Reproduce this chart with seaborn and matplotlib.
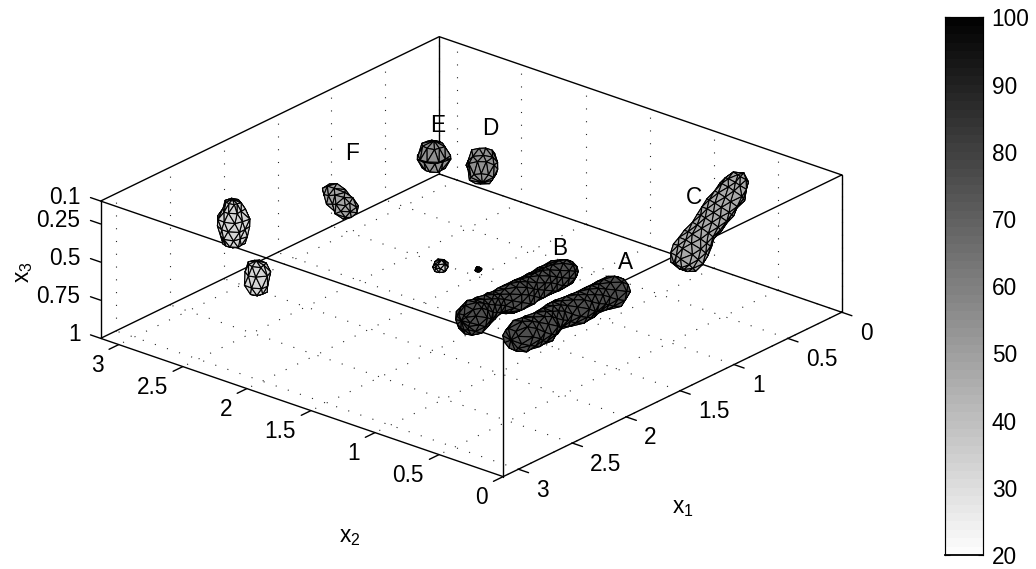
import matplotlib
matplotlib.use("Agg")
import matplotlib.pyplot as plt
import numpy as np
import seaborn as sns
from mpl_toolkits.mplot3d import proj3d

W, H = 1036, 569
FONT_SIZE = 16.3
PI = np.pi

X1_TICKS = [0, 0.5, 1, 1.5, 2, 2.5, 3]
X2_TICKS = [0, 0.5, 1, 1.5, 2, 2.5, 3]
X3_TICKS = [0.1, 0.25, 0.5, 0.75, 1]
X1_LABELS = ["0", "0.5", "1", "1.5", "2", "2.5", "3"]
X2_LABELS = ["0", "0.5", "1", "1.5", "2", "2.5", "3"]
X3_LABELS = ["0.1", "0.25", "0.5", "0.75", "1"]
CBAR_TICKS = [20, 30, 40, 50, 60, 70, 80, 90, 100]

# blob centre lines (x1, x2, x3), tube radius and level on the colour scale
A_X1 = [2.354, 2.153, 1.962, 1.799, 1.629, 1.503]
A_X2 = [0.532, 0.519, 0.575, 0.530, 0.543, 0.519]
A_X3 = [0.5, 0.5, 0.5, 0.5, 0.5, 0.5]
A_R = [0.100, 0.100, 0.086, 0.097, 0.086, 0.100]

B_X1 = [2.326, 2.070, 1.943, 1.725, 1.544, 1.476]
B_X2 = [0.922, 0.966, 0.929, 0.930, 0.926, 0.919]
B_X3 = [0.5, 0.5, 0.5, 0.5, 0.5, 0.5]
B_R = [0.106, 0.070, 0.096, 0.086, 0.092, 0.080]

C_X1 = [0.353, 0.238, 0.131, 0.016, 0.008]
C_X2 = [0.90, 0.88, 0.86, 0.84, 0.82]
C_X3 = [0.757, 0.633, 0.533, 0.436, 0.389]
C_R = [0.108, 0.084, 0.092, 0.092, 0.076]

D_X1 = [0.569, 0.590]
D_X2 = [2.326, 2.310]
D_X3 = [0.5, 0.52]
D_R = [0.098, 0.094]

E_X1 = [0.664, 0.664]
E_X2 = [2.628, 2.628]
E_X3 = [0.5, 0.51]
E_R = [0.096, 0.096]

F_X1 = [1.478, 1.579]
F_X2 = [2.724, 2.540]
F_X3 = [0.5, 0.5]
F_R = [0.066, 0.070]

G_X1 = [2.162, 2.162, 2.162]
G_X2 = [2.930, 2.930, 2.930]
G_X3 = [0.423, 0.5, 0.587]
G_R = [0.066, 0.102, 0.084]

H_X1 = [2.648, 2.648]
H_X2 = [2.334, 2.334]
H_X3 = [0.5, 0.576]
H_R = [0.078, 0.072]

I_X1 = [1.867, 1.880]
I_X2 = [1.552, 1.552]
I_X3 = [0.5, 0.5]
I_R = [0.040, 0.040]

J_X1 = [1.766, 1.775]
J_X2 = [1.348, 1.348]
J_X3 = [0.5, 0.5]
J_R = [0.014, 0.011]

BLOBS = [
    (A_X1, A_X2, A_X3, A_R, 76),
    (B_X1, B_X2, B_X3, B_R, 76),
    (C_X1, C_X2, C_X3, C_R, 47),
    (D_X1, D_X2, D_X3, D_R, 54),
    (E_X1, E_X2, E_X3, E_R, 54),
    (F_X1, F_X2, F_X3, F_R, 48),
    (G_X1, G_X2, G_X3, G_R, 33),
    (H_X1, H_X2, H_X3, H_R, 33),
    (I_X1, I_X2, I_X3, I_R, 33),
    (J_X1, J_X2, J_X3, J_R, 70),
]

LETTERS = ["A", "B", "C", "D", "E", "F"]
LETTER_X1 = [1.125, 1.218, 0.132, 0.144, 0.314, 0.955]
LETTER_X2 = [0.745, 1.174, 1.042, 2.623, 2.893, 3.018]
LETTER_X3 = [0.5, 0.5, 0.5, 0.5, 0.5, 0.5]


def tube_mesh(x1, x2, x3, radii, step=0.062):
    pts = np.column_stack([x1, x2, x3])
    s = np.r_[0, np.cumsum(np.linalg.norm(np.diff(pts, axis=0), axis=1))]
    axis = (pts[-1] - pts[0]) / s[-1]
    n1 = np.cross(axis, [0.3, -0.5, 0.8])
    n1 /= np.linalg.norm(n1)
    n2 = np.cross(axis, n1)

    r0, r1 = radii[0], radii[-1]
    n_ring = max(6, int(round(2 * PI * max(radii) / step)))
    k0 = max(2, int(r0 * PI / 2 / (step * 0.85)))
    k1 = max(2, int(r1 * PI / 2 / (step * 0.85)))
    k_body = max(1, int(s[-1] / (step * 0.85)))

    rings = []
    for th in np.linspace(0, PI / 2, k0 + 1)[1:]:
        rings.append((pts[0] - axis * r0 * np.cos(th), r0 * np.sin(th)))
    for u in np.linspace(0, s[-1], k_body + 1)[1:-1]:
        c = np.array([np.interp(u, s, pts[:, i]) for i in range(3)])
        rings.append((c, np.interp(u, s, radii)))
    for th in np.linspace(0, PI / 2, k1 + 1)[1:-1]:
        rings.append((pts[-1] + axis * r1 * np.cos(th), r1 * np.sin(th)))
    rings.append((pts[-1], r1))
    rings = sorted(rings, key=lambda ring: np.dot(ring[0] - pts[0], axis))

    verts, tris = [], []
    for i, (c, r) in enumerate(rings):
        phi = 2 * PI * (np.arange(n_ring) + 0.5 * (i % 2)) / n_ring
        for p in phi:
            verts.append(c + r * (np.cos(p) * n1 + np.sin(p) * n2))
    for i in range(len(rings) - 1):
        for j in range(n_ring):
            a = i * n_ring + j
            b = i * n_ring + (j + 1) % n_ring
            c = (i + 1) * n_ring + j
            d = (i + 1) * n_ring + (j + 1) % n_ring
            if i % 2 == 0:
                tris += [[a, b, c], [b, c, d]]
            else:
                tris += [[a, c, d], [a, b, d]]

    start = len(verts)
    verts.append(pts[0] - axis * r0)
    verts.append(pts[-1] + axis * r1)
    last = (len(rings) - 1) * n_ring
    for j in range(n_ring):
        tris.append([start, j, (j + 1) % n_ring])
        tris.append([start + 1, last + j, last + (j + 1) % n_ring])

    # isosurface meshes are not regular, so nudge the lattice a little
    verts = np.array(verts)
    idx = np.arange(len(verts))
    nudge = np.column_stack([np.sin(idx * 12.9898), np.sin(idx * 78.233), np.sin(idx * 37.719)])
    return verts + 0.13 * step * nudge, np.array(tris)


sns.set_theme(style="white")
plt.rcParams["font.family"] = ["Liberation Sans", "DejaVu Sans"]
plt.rcParams["mathtext.default"] = "regular"
plt.rcParams["text.color"] = "black"

gray_map = sns.color_palette("gray_r", 64, as_cmap=False)
gray_cmap = matplotlib.colors.ListedColormap(gray_map)

fig = plt.figure(figsize=(W / 100, H / 100), dpi=100, facecolor="white")

# box is 526 x 526 x 150.4 px, centred on (471.2, 256.65) in the image
side = 736.8
left = 471.2 - 0.95 / 1.85 * side
bottom = (H - 256.65) - 0.95 / 1.85 * side
ax = fig.add_axes(
    [left / W, bottom / H, side / W, side / H],
    projection="3d",
    proj_type="ortho",
    computed_zorder=False,
)
ax.set_box_aspect((526, 526, 150.4))
ax.view_init(elev=24.1, azim=220.07)
ax.set_xticks([])
ax.set_yticks([])
ax.set_zticks([])
ax.set_axis_off()


def line(xs, ys, zs, lw=1.0, ls="-", color="black", z=1):
    ax.plot(xs, ys, zs, color=color, lw=lw, ls=ls, zorder=z, clip_on=False)


def label(x1, x2, x3, text, **kwargs):
    # place the text where the 3D point lands on the 2D view
    px, py, _ = proj3d.proj_transform(x1, x2, x3, ax.get_proj())
    kwargs.setdefault("va", "center")
    ax.text2D(px, py, text, transform=ax.transData, fontsize=FONT_SIZE, color="black", zorder=5, **kwargs)


# dotted grid: floor and the two back walls
dots = (0, (1, 10.5))
for t in X1_TICKS:
    line([t, t], [0, PI], [1, 1], lw=0.8, ls=dots, color="0.15")
    line([t, t], [PI, PI], [1, 0.1], lw=0.8, ls=dots, color="0.15")
for t in X2_TICKS:
    line([0, PI], [t, t], [1, 1], lw=0.8, ls=dots, color="0.15")
    line([0, 0], [t, t], [1, 0.1], lw=0.8, ls=dots, color="0.15")

# box edges
for z3 in (1, 0.1):
    line([0, PI, PI, 0, 0], [0, 0, PI, PI, 0], [z3] * 5, z=2)
for c1, c2 in ((0, 0), (PI, 0), (PI, PI), (0, PI)):
    line([c1, c1], [c2, c2], [1, 0.1], z=2)

# tick marks
for t in X1_TICKS:
    line([t, t], [0, -0.079], [1, 1], z=2)
for t in X2_TICKS:
    line([PI, PI + 0.09], [t, t], [1, 1], z=2)
for t in X3_TICKS:
    line([PI, PI], [PI, PI + 0.079], [t, t], z=2)

# isosurface blobs
for b1, b2, b3, br, level in BLOBS:
    v, t = tube_mesh(b1, b2, b3, br)
    face = gray_cmap((level - 20) / 80)
    surf = ax.plot_trisurf(
        v[:, 0], v[:, 1], v[:, 2], triangles=t,
        color=face, edgecolor="black", linewidth=0.8, shade=False, zorder=3,
    )
    surf.set_clip_on(False)

ax.set_xlim(PI, 0)
ax.set_ylim(0, PI)
ax.set_zlim(1, 0.1)

# texts go last, the projection needs the final limits
for t, lab in zip(X1_TICKS, X1_LABELS):
    label(t, -0.14, 1.097, lab, ha="left")
for t, lab in zip(X2_TICKS, X2_LABELS):
    label(PI + 0.139, t, 1.09, lab, ha="right")
for t, lab in zip(X3_TICKS, X3_LABELS):
    label(PI, PI + 0.156, t + 0.022, lab, ha="right")

label(2.802, -1.116, 1, "$x_1$", ha="center")
label(4.397, 0.142, 1, "$x_2$", ha="center")
label(3.553, 3.401, 0.5, "$x_3$", ha="center", rotation=90)

for name, l1, l2, l3 in zip(LETTERS, LETTER_X1, LETTER_X2, LETTER_X3):
    label(l1, l2, l3, name, ha="center")

# colour bar, 64 bands from black (100) down to white (20)
cax = fig.add_axes([945.3 / W, (H - 555) / H, 38 / W, (555 - 17.3) / H])
bands = np.linspace(100, 20, 64).reshape(-1, 1)
sns.heatmap(bands, cmap=gray_cmap, vmin=20, vmax=100, cbar=False, ax=cax, xticklabels=False, yticklabels=False)
cax.set_yticks([(100 - v) / 80 * 64 for v in CBAR_TICKS], [str(v) for v in CBAR_TICKS])
cax.tick_params(
    axis="y", left=True, right=True, labelleft=False, labelright=True,
    direction="in", length=3.6, width=0.8, color="black", pad=6,
    labelsize=FONT_SIZE, labelcolor="black", labelrotation=0,
)
for sp in cax.spines.values():
    sp.set_visible(True)
    sp.set_color("black")
    sp.set_linewidth(0.85)
cax.spines["bottom"].set_linewidth(1.3)

fig.savefig("out.png", dpi=100, facecolor="white")
